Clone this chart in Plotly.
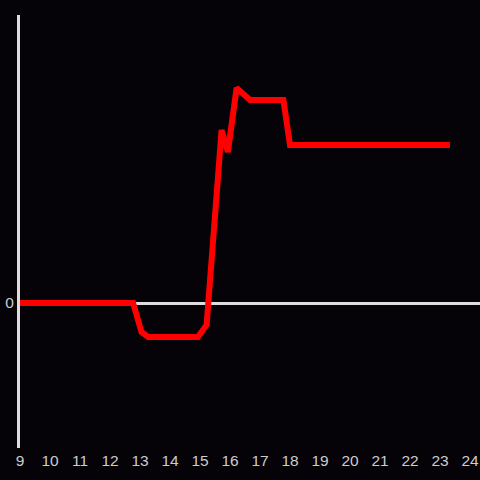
import plotly.graph_objects as go

x_vals = [9, 12.77, 13.05, 13.27, 14.93, 15.22, 15.72, 15.93, 16.22, 16.67, 17.78, 18.0, 23.33]
y_vals = [0, 0, -29, -34, -34, -22, 173, 151, 215, 203, 203, 158, 158]
x_ticks = list(range(9, 25))

fig = go.Figure()
fig.add_trace(go.Scatter(x=x_vals, y=y_vals, mode="lines",
                         line=dict(color="#ff0000", width=6), hoverinfo="skip"))
fig.update_layout(
    width=480, height=480,
    margin=dict(l=20, r=0, t=15, b=32),
    paper_bgcolor="#050307", plot_bgcolor="#050307",
    showlegend=False,
    font=dict(family="Liberation Sans, Arial, sans-serif", size=15.5, color="#cccccc"),
    xaxis=dict(range=[9, 24.333], tickvals=x_ticks, ticktext=[str(t) for t in x_ticks],
               showgrid=False, zeroline=False, showline=False, ticks="",
               ticklabelstandoff=1),
    yaxis=dict(range=[-145, 288], tickvals=[0], ticktext=["0"], showgrid=False,
               zeroline=True, zerolinecolor="#dddddd", zerolinewidth=3,
               showline=True, linecolor="#dddddd", linewidth=3, ticks="",
               ticklabelstandoff=0),
)
fig.write_html("out.html", config={"displayModeBar": False},
               post_script="document.body.style.margin='0';document.body.style.overflow='hidden';")
